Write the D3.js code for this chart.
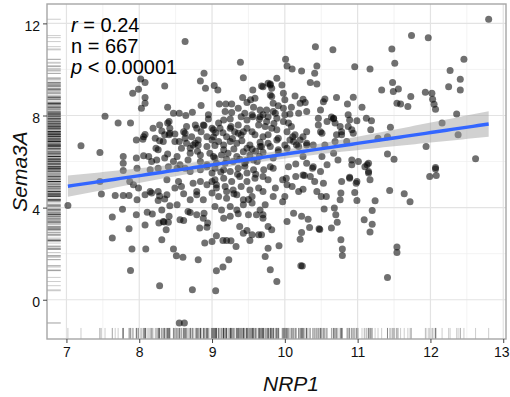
<!DOCTYPE html>
<html>
<head>
<meta charset="utf-8">
<script src="https://cdnjs.cloudflare.com/ajax/libs/d3/7.8.5/d3.min.js"></script>
<style>
  body { margin: 0; background: #fff; }
  svg { display: block; font-family: "Liberation Sans", Arial, sans-serif; }
</style>
</head>
<body>
<svg id="chart" width="510" height="397"></svg>
<script>
const xTicks = [7, 8, 9, 10, 11, 12, 13]
const yTicks = [0, 4, 8, 12]
const xMinor = [7.5, 8.5, 9.5, 10.5, 11.5, 12.5]
const yMinor = [2, 6, 10]
const xLimits = [6.733, 13.038]
const yLimits = [-1.705, 12.842]
const statLines = [['r', ' = 0.24'], ['', 'n = 667'], ['p', ' < 0.00001']]

// [NRP1, Sema3A]
const samples = [
  [8.63,11.21],[9.39,10.31],[9.43,9.64],[8.89,9.83],[8.84,9.50],[8.91,9.18],[9.03,9.30],[9.08,9.11],[8.35,9.28],[8.02,9.59],
  [8.08,9.43],[7.99,9.14],[7.91,8.97],[8.08,8.78],[8.08,8.53],[8.03,8.32],[8.39,8.36],[7.53,7.97],[7.71,7.67],[7.88,7.67],
  [7.20,6.69],[7.46,6.39],[8.47,8.10],[8.55,8.10],[8.64,8.00],[8.73,8.14],[8.85,8.43],[8.95,8.03],[9.10,8.50],[9.19,8.50],
  [9.27,8.50],[9.36,8.32],[9.42,8.78],[9.56,9.11],[9.68,9.28],[9.77,9.40],[9.53,8.68],[9.59,8.75],[9.66,8.24],[9.56,7.95],
  [9.18,8.17],[9.27,8.13],[8.28,7.59],[8.39,7.67],[8.19,7.45],[8.08,7.17],[7.96,6.94],[8.05,6.97],[8.22,7.01],[8.35,7.16],
  [8.42,7.23],[8.49,6.87],[8.33,6.87],[8.23,6.58],[8.39,6.33],[8.63,7.23],[8.65,7.52],[8.77,7.59],[8.88,7.59],[8.85,7.30],
  [9.00,7.45],[9.09,7.67],[9.16,7.81],[9.25,7.45],[9.36,7.23],[9.48,7.45],[9.75,7.74],[9.70,7.08],[9.00,6.94],[9.20,7.08],
  [9.34,6.80],[8.81,6.72],[8.65,6.80],[8.70,6.36],[8.84,6.29],[8.52,6.22],[7.78,6.22],[7.96,6.15],[8.13,6.22],[8.17,6.00],
  [8.97,6.36],[9.16,6.51],[9.48,6.58],[9.66,6.65],[9.06,5.93],
  [12.80,12.18],[11.74,11.47],[11.97,11.38],[11.47,10.89],[11.51,10.27],[12.46,10.44],[12.27,9.95],[12.41,9.57],[12.41,9.11],[12.25,9.25],
  [10.42,10.99],[10.66,10.85],[10.96,10.12],[11.17,10.02],[10.01,10.44],[10.03,10.15],[10.10,10.02],[10.23,9.93],[10.44,10.15],[10.41,9.83],
  [10.35,9.43],[10.44,9.37],[9.89,9.62],[9.80,9.33],[9.96,9.33],[9.98,8.97],[10.00,8.68],[9.82,8.82],[9.70,9.25],[10.14,8.85],
  [10.25,8.71],[10.21,8.53],[10.09,8.36],[10.30,8.17],[10.55,8.72],[10.71,8.78],[10.86,8.50],[10.94,8.79],[11.06,8.36],[11.33,9.11],
  [11.48,9.43],[11.49,9.04],[11.56,9.15],[11.54,8.53],[11.59,8.50],[11.69,8.39],[11.73,8.82],[11.93,9.01],[12.02,8.97],[12.03,8.71],
  [12.05,8.49],[12.07,8.27],[12.36,8.06],[12.16,7.67],[12.38,7.16],[11.94,6.65],[11.41,6.33],[11.50,6.10],[12.62,6.12],[12.07,5.74],
  [11.45,7.49],[11.28,7.01],[11.41,7.08],[11.18,7.38],[11.19,7.77],[11.12,7.88],[10.99,7.77],[10.87,8.03],[10.87,7.52],[10.94,7.23],
  [10.85,6.87],[10.78,7.16],[10.71,7.16],[10.76,7.52],[10.69,7.67],[10.64,7.93],[10.67,7.88],[10.67,7.86],[10.58,7.74],[10.49,8.24],
  [10.46,7.88],[10.46,7.59],[10.51,7.23],[10.55,6.72],[10.67,6.36],[10.73,6.07],[10.92,6.07],[11.01,6.00],[11.13,5.86],[10.39,6.72],
  [10.30,6.72],[10.25,7.08],[10.30,7.30],[10.11,7.08],[10.09,7.52],[10.05,7.67],[10.00,8.03],[9.89,7.88],[9.84,8.17],[9.75,8.24],
  [9.70,8.03],[9.98,7.74],[9.89,7.38],[9.77,7.16],[9.91,7.01],[10.07,6.94],[9.80,6.65],[9.68,6.65],[9.91,6.43],[9.65,6.22],
  [10.19,6.65],[10.25,6.22],[10.51,6.22],[10.58,5.86],[10.39,5.78],[10.15,5.89],
  [10.53,8.60],[10.78,7.30],[10.92,7.38],[10.89,7.81],[10.69,6.87],[10.92,5.86],[11.10,5.78],[11.15,5.93],[11.15,5.50],[10.53,5.06],
  [10.78,5.13],[10.89,5.28],[10.99,5.13],
  [9.73,4.12],[9.70,3.69],[9.82,3.04],[9.68,2.82],[9.77,2.24],[9.73,1.88],[9.92,2.34],[9.80,1.30],[9.89,0.79],[10.03,3.40],
  [10.12,3.76],[10.23,3.62],[10.32,3.50],[10.34,3.14],[10.23,2.92],[10.21,2.63],[10.47,3.08],[10.48,3.05],[10.22,1.48],[10.24,1.47],
  [10.64,3.11],[10.72,3.36],[10.70,3.69],[10.68,3.98],[10.54,3.94],[10.50,4.48],[10.57,4.48],[10.77,2.60],[10.79,2.20],[10.79,1.92],
  [10.77,4.63],[10.76,4.34],[10.96,4.66],[10.99,4.31],[10.98,5.06],[10.89,5.32],[11.09,3.47],[11.20,3.28],[11.17,2.94],[11.20,3.87],
  [11.24,4.30],[11.41,0.97],[11.54,2.29],[11.54,2.05],[11.44,4.74],[11.64,4.60],[11.72,4.26],[11.99,5.35],[12.07,5.68],[12.08,5.39],
  [11.15,5.57],[11.17,5.21],[10.49,5.57],[10.38,5.71],[10.41,5.13],[10.35,5.35],[10.25,5.42],[10.27,5.40],[10.15,5.35],[10.19,4.70],
  [10.25,4.80],[10.10,4.92],[10.03,4.99],[9.97,5.21],[10.02,5.28],[9.87,4.85],[9.84,4.48],[10.00,4.48],[9.97,4.26],[9.70,4.70],
  [9.77,5.21],[9.80,5.78],[9.84,5.71],[9.70,5.35],[9.71,5.64],
  [7.02,4.09],[7.48,4.59],[7.67,4.53],[7.78,4.53],[7.86,4.53],[7.63,3.59],[7.77,3.93],[7.86,3.08],[7.63,2.68],[7.90,2.20],
  [8.09,2.20],[7.88,1.27],[8.28,0.61],[8.73,0.43],[9.05,0.39],[8.55,-1.01],[8.62,-1.01],[7.97,4.34],[7.96,3.69],[8.11,3.80],
  [8.18,3.72],[8.27,3.33],[8.33,3.40],[8.34,3.38],[8.40,3.36],[8.37,3.04],[8.41,3.62],[8.31,2.60],[8.47,2.20],[8.51,1.91],
  [8.60,1.84],[8.81,1.74],[8.61,3.44],[8.52,4.12],[8.42,4.08],[8.35,4.37],[8.26,4.31],[8.08,4.56],[8.17,4.63],[8.28,4.51],
  [8.70,3.79],[8.83,3.11],[8.94,3.33],[8.89,3.76],[8.90,2.46],[9.00,2.53],[9.06,2.78],[9.15,2.57],[9.20,2.57],[9.26,2.56],
  [9.33,2.31],[9.23,1.74],[9.15,1.42],[9.06,1.26],[9.43,2.89],[9.52,2.57],[9.55,2.82],[9.64,2.82],[9.38,3.18],[9.48,3.01],
  [9.16,3.54],[9.25,3.62],[9.36,3.73],[9.50,3.69],[9.61,3.69],[9.70,3.54],[9.77,3.18],[8.61,4.60],[8.70,4.34],[8.79,4.56],
  [8.88,4.34],[9.04,4.05],[9.13,3.90],[9.25,4.05],[9.34,3.90],[9.43,4.12],[9.55,4.20],[9.66,3.90],
  [9.09,4.48],[9.20,4.41],[9.34,4.56],[9.43,4.34],[9.55,4.48],[10.44,4.70],
  [9.06,4.85],[9.18,4.92],[9.29,4.77],[9.40,4.92],[9.52,4.77],[9.64,4.85],
  [9.04,5.21],[9.16,5.28],[9.27,5.13],[9.38,5.35],[9.48,5.13],[9.59,5.28],
  [9.00,5.50],[9.16,5.64],[9.25,5.57],[9.36,5.71],[9.48,5.50],[9.57,5.64],[10.05,5.78],[10.30,5.93],
  [9.18,5.93],[9.29,6.00],[9.45,5.93],[9.57,6.07],
  [9.02,6.22],[9.13,6.29],[9.22,6.36],[9.34,6.22],[9.43,6.43],[9.52,6.29],[9.84,6.15],
  [9.04,6.70],[9.16,6.72],[9.25,6.87],[9.41,6.90],[9.52,6.72],[9.66,6.84],[9.77,6.80],[9.89,6.94],[10.00,6.72],[10.12,6.87],
  [10.16,6.72],[10.30,6.80],[9.91,6.51],[10.03,6.58],
  [9.80,9.37],[9.82,9.18],[9.80,8.89],[10.28,8.56],[9.48,8.56],[9.57,8.36],[9.84,8.53],[9.91,8.42],[9.98,8.32],[9.40,7.95],
  [9.45,8.10],[9.55,8.03],[9.87,8.10],[10.07,8.07],[10.19,8.10],[9.48,7.81],[9.66,7.95],[9.77,7.95],[9.11,7.45],[9.02,7.08],
  [9.26,7.52],[9.31,7.30],[9.36,7.59],[9.43,7.30],[9.59,7.16],[9.64,7.59],[9.73,7.52],[9.82,7.45],[10.03,7.30],[10.14,7.16],
  [10.21,6.94],[10.49,7.30],
  [8.41,7.74],[8.31,7.33],[8.42,7.45],[8.49,7.20],[8.61,7.30],[8.79,7.45],[8.89,7.57],[8.93,7.08],[9.02,7.38],[9.09,6.87],
  [8.06,7.08],[8.28,6.90],[8.41,7.16],[8.55,6.87],[8.63,7.01],[8.72,7.08],[8.74,6.72],[8.81,6.94],[8.93,6.65],[8.58,6.58],
  [8.26,6.51],[8.70,6.58],[8.77,6.80],
  [7.78,5.93],[7.78,5.61],[8.06,6.25],[8.24,6.07],[8.35,6.15],[8.47,6.00],[8.56,5.86],[8.67,6.07],[8.84,6.00],[8.93,5.86],
  [9.04,6.15],[7.97,5.71],[8.15,5.64],[8.26,5.71],[8.40,5.78],[8.52,5.71],[8.63,5.71],[8.70,5.57],[8.84,5.64],[8.93,5.78],
  [9.04,5.71],[7.46,5.13],[7.87,5.13],[7.92,4.99],[7.99,4.85],[8.15,4.70],[8.26,4.70],[8.38,4.56],[8.38,5.21],[8.54,5.13],
  [8.58,4.92],[8.49,4.85],[8.74,5.06],[8.84,5.13],[8.93,4.99],[9.00,5.13],[9.06,4.99],[8.79,4.70],[9.00,4.63],
  [8.31,3.90],[8.56,3.47],[8.67,3.83],[8.79,3.69],[8.88,3.54],[8.08,3.25],[8.93,3.15],
  // overlapping points in the darkest part of the cloud
  [9.30,6.55],[9.38,6.10],[9.47,6.05],[9.55,6.55],[9.62,6.00],[9.35,5.45],[9.45,5.80],[9.60,5.45],[9.20,6.10],[9.12,5.55],
  [9.28,7.00],[9.15,7.25],[9.40,7.15],[9.55,7.30],[9.05,7.25],[9.60,6.45],[9.70,6.40],[9.30,4.60],[9.50,4.35],[9.20,4.70],
  [8.95,7.85],[9.25,7.85],[9.65,7.85],[9.85,7.65],[8.80,6.45]
]

const margin = { top: 4, right: 4, bottom: 58, left: 47 }
const W = 510, H = 397
const iw = W - margin.left - margin.right
const ih = H - margin.top - margin.bottom

const svg = d3.select('#chart')
const g = svg.append('g').attr('transform', `translate(${margin.left},${margin.top})`)

const x = d3.scaleLinear().domain(xLimits).range([0, iw])
const y = d3.scaleLinear().domain(yLimits).range([ih, 0])

// grid
g.selectAll('.xminor').data(xMinor).join('line')
  .attr('x1', d => x(d)).attr('x2', d => x(d)).attr('y1', 0).attr('y2', ih)
  .attr('stroke', '#eeeeee').attr('stroke-width', 0.7)
g.selectAll('.yminor').data(yMinor).join('line')
  .attr('y1', d => y(d)).attr('y2', d => y(d)).attr('x1', 0).attr('x2', iw)
  .attr('stroke', '#eeeeee').attr('stroke-width', 0.7)
g.selectAll('.xmajor').data(xTicks).join('line')
  .attr('x1', d => x(d)).attr('x2', d => x(d)).attr('y1', 0).attr('y2', ih)
  .attr('stroke', '#e3e3e3').attr('stroke-width', 1.2)
g.selectAll('.ymajor').data(yTicks).join('line')
  .attr('y1', d => y(d)).attr('y2', d => y(d)).attr('x1', 0).attr('x2', iw)
  .attr('stroke', '#e3e3e3').attr('stroke-width', 1.2)

// rugs
const rugX = ih * 0.033, rugY = iw * 0.03
g.append('g').selectAll('line').data(samples).join('line')
  .attr('x1', d => x(d[0])).attr('x2', d => x(d[0]))
  .attr('y1', ih).attr('y2', ih - rugX)
  .attr('stroke', '#000').attr('stroke-opacity', 0.2).attr('stroke-width', 1)
g.append('g').selectAll('line').data(samples).join('line')
  .attr('y1', d => y(d[1])).attr('y2', d => y(d[1]))
  .attr('x1', 0).attr('x2', rugY)
  .attr('stroke', '#000').attr('stroke-opacity', 0.2).attr('stroke-width', 1)

// points
g.append('g').selectAll('circle').data(samples).join('circle')
  .attr('cx', d => x(d[0])).attr('cy', d => y(d[1])).attr('r', 3.5)
  .attr('fill', '#000').attr('fill-opacity', 0.56)

// linear fit + 95% band
const n = samples.length
const mx = d3.mean(samples, d => d[0]), my = d3.mean(samples, d => d[1])
const sxx = d3.sum(samples, d => (d[0] - mx) ** 2)
const sxy = d3.sum(samples, d => (d[0] - mx) * (d[1] - my))
const slope = sxy / sxx
const icpt = my - slope * mx
const sres = Math.sqrt(d3.sum(samples, d => (d[1] - icpt - slope * d[0]) ** 2) / (n - 2))
const [xmin, xmax] = d3.extent(samples, d => d[0])
const fit = d3.range(0, 81).map(i => {
  const xv = xmin + (xmax - xmin) * i / 80
  const yv = icpt + slope * xv
  const se = sres * Math.sqrt(1 / n + (xv - mx) ** 2 / sxx)
  return { xv, yv, lo: yv - 1.964 * se, hi: yv + 1.964 * se }
})

g.append('path').datum(fit)
  .attr('fill', '#999999').attr('fill-opacity', 0.45)
  .attr('d', d3.area().x(d => x(d.xv)).y0(d => y(d.lo)).y1(d => y(d.hi)))
g.append('path').datum(fit)
  .attr('fill', 'none').attr('stroke', '#3366FF').attr('stroke-width', 3.4)
  .attr('d', d3.line().x(d => x(d.xv)).y(d => y(d.yv)))

// border
g.append('rect').attr('width', iw).attr('height', ih)
  .attr('fill', 'none').attr('stroke', '#a6a6a6').attr('stroke-width', 1.4)

// axes
const xAxis = g.append('g').attr('transform', `translate(0,${ih})`)
  .call(d3.axisBottom(x).tickValues(xTicks).tickSize(4).tickPadding(4).tickFormat(d3.format('d')))
const yAxis = g.append('g')
  .call(d3.axisLeft(y).tickValues(yTicks).tickSize(4).tickPadding(3).tickFormat(d3.format('d')))
;[xAxis, yAxis].forEach(a => {
  a.select('.domain').remove()
  a.selectAll('.tick line').attr('stroke', '#444')
  a.selectAll('.tick text').attr('fill', '#111').style('font-size', '14px')
    .style('font-family', '"Liberation Sans", Arial, sans-serif')
})
yAxis.selectAll('.tick text').attr('dy', '0.5em')
xAxis.selectAll('.tick text').filter(d => d === 13).attr('dx', -2)

svg.append('text')
  .attr('x', 291).attr('y', 391)
  .attr('text-anchor', 'middle')
  .style('font-size', '21px').style('font-style', 'italic').attr('fill', '#111')
  .text('NRP1')
svg.append('text')
  .attr('transform', `translate(27,${margin.top + ih / 2}) rotate(-90)`)
  .attr('text-anchor', 'middle')
  .style('font-size', '21px').style('font-style', 'italic').attr('fill', '#111')
  .text('Sema3A')

// stats
const stats = svg.append('g')
statLines.forEach((s, i) => {
  const t = stats.append('text')
    .attr('x', 71).attr('y', 31.5 + i * 21.3)
    .style('font-size', '20px').attr('fill', '#000')
  if (s[0]) t.append('tspan').style('font-style', 'italic').text(s[0])
  t.append('tspan').text(s[1])
})
</script>
</body>
</html>
